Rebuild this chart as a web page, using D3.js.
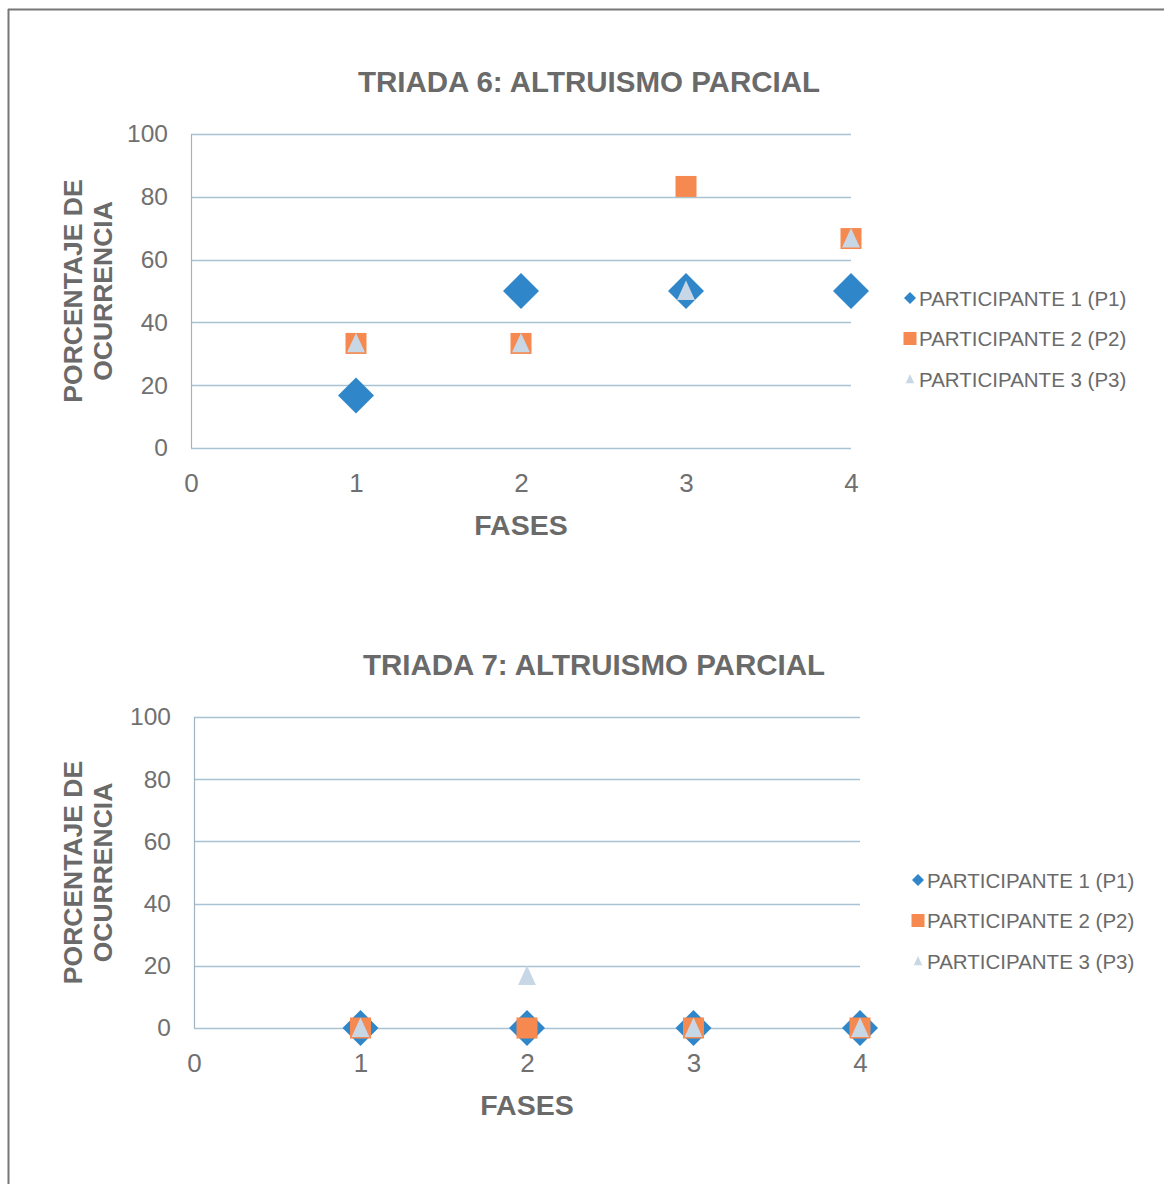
<!DOCTYPE html>
<html><head><meta charset="utf-8">
<script src="https://cdn.jsdelivr.net/npm/d3@7"></script>
<style>
html,body{margin:0;padding:0;background:#fff;}
svg{display:block;font-family:"Liberation Sans",Arial,sans-serif;}
</style></head>
<body>
<svg id="c" width="1164" height="1184"></svg>
<script>
const phases = [1, 2, 3, 4];
const xTicks = [0, 1, 2, 3, 4];
const yTicks = [0, 20, 40, 60, 80, 100];
const seriesNames = ["PARTICIPANTE 1 (P1)", "PARTICIPANTE 2 (P2)", "PARTICIPANTE 3 (P3)"];
const seriesColors = ["#2f86c9", "#f5894f", "#c8d7e6"];
const seriesShapes = ["diamond", "square", "triangle"];

const t6Title = "TRIADA 6: ALTRUISMO PARCIAL";
const t6P1 = [16.7, 50, 50, 50];
const t6P2 = [33.3, 33.3, 83.3, 66.7];
const t6P3 = [33.3, 33.3, 50, 66.7];

const t7Title = "TRIADA 7: ALTRUISMO PARCIAL";
const t7P1 = [0, 0, 0, 0];
const t7P2 = [0, 0, 0, 0];
const t7P3 = [0, 16.7, 0, 0];

const svg = d3.select("#c");
// frame
svg.append("line").attr("x1",8).attr("y1",9.5).attr("x2",1164).attr("y2",9.5).attr("stroke","#777").attr("stroke-width",2);
svg.append("line").attr("x1",8.5).attr("y1",9).attr("x2",8.5).attr("y2",1184).attr("stroke","#777").attr("stroke-width",2);

function shapePath(shape, s) {
  if (shape === "diamond") return `M0,${-s}L${s},0L0,${s}L${-s},0Z`;
  if (shape === "square") return `M${-s},${-s}H${s}V${s}H${-s}Z`;
  return `M0,${-s}L${s*0.85},${s*0.85}L${-s*0.85},${s*0.85}Z`;
}

function drawChart(cfg) {
  const g = svg.append("g");
  const x = d3.scaleLinear().domain([0, 4]).range([cfg.x0, cfg.x1]);
  const y = d3.scaleLinear().domain([0, 100]).range([cfg.y0, cfg.y1]);

  // gridlines
  g.append("g").selectAll("line").data(yTicks).join("line")
    .attr("x1", x(0)).attr("x2", x(4))
    .attr("y1", d => Math.round(y(d)) + 0.5).attr("y2", d => Math.round(y(d)) + 0.5)
    .attr("stroke", "#a8c3d4").attr("stroke-width", 1.5);
  // y axis line
  g.append("line").attr("x1", x(0) + 0.5).attr("x2", x(0) + 0.5)
    .attr("y1", y(100)).attr("y2", y(0)).attr("stroke", "#9fb3c0").attr("stroke-width", 1.2);

  // y tick labels
  const yAxis = d3.axisLeft(y).tickValues(yTicks).tickFormat(d3.format("d")).tickSize(0).tickPadding(23);
  const ya = g.append("g").attr("transform", `translate(${x(0)},0)`).call(yAxis);
  ya.select(".domain").remove();
  ya.selectAll("text").attr("font-size", 24.5).attr("fill", "#707070").attr("font-family", "Liberation Sans, Arial, sans-serif");

  // x tick labels
  const xAxis = d3.axisBottom(x).tickValues(xTicks).tickFormat(d3.format("d")).tickSize(0).tickPadding(26);
  const xa = g.append("g").attr("transform", `translate(0,${y(0)})`).call(xAxis);
  xa.select(".domain").remove();
  xa.selectAll("text").attr("font-size", 26).attr("fill", "#707070").attr("font-family", "Liberation Sans, Arial, sans-serif");

  // title
  g.append("text").attr("x", cfg.titleX).attr("y", cfg.titleY).attr("text-anchor", "middle")
    .attr("font-size", 29.5).attr("font-weight", "bold").attr("fill", "#6a6a6a").text(cfg.title);
  // x title
  g.append("text").attr("x", x(2)).attr("y", y(0) + 87).attr("text-anchor", "middle")
    .attr("font-size", 28.5).attr("font-weight", "bold").attr("fill", "#6a6a6a").text("FASES");
  // y title
  const yc = (y(0) + y(100)) / 2;
  const yt = g.append("text").attr("transform", `translate(${cfg.yTitleX},${yc}) rotate(-90)`)
    .attr("text-anchor", "middle").attr("font-size", 26.5).attr("font-weight", "bold").attr("fill", "#6a6a6a");
  yt.append("tspan").attr("x", 0).attr("dy", 0).text("PORCENTAJE DE");
  yt.append("tspan").attr("x", 0).attr("dy", 30).text("OCURRENCIA");

  // points
  const sizes = [18, 10.5, 10.5];
  cfg.series.forEach((vals, i) => {
    g.append("g").selectAll("path").data(vals.map((v, j) => ({ v, p: phases[j] }))).join("path")
      .attr("transform", d => `translate(${x(d.p)},${y(d.v)})`)
      .attr("d", shapePath(seriesShapes[i], sizes[i]))
      .attr("fill", seriesColors[i]);
  });

  // legend
  const lg = g.append("g").attr("transform", `translate(${cfg.legX},${cfg.legY})`);
  const lsz = [6, 6.5, 5];
  seriesNames.forEach((n, i) => {
    const row = lg.append("g").attr("transform", `translate(0,${i * 40.5})`);
    row.append("path").attr("d", shapePath(seriesShapes[i], lsz[i])).attr("fill", seriesColors[i]);
    row.append("text").attr("x", 9).attr("y", 7.5).attr("font-size", 20.5).attr("fill", "#6a6a6a").text(n);
  });
}

drawChart({ x0: 191, x1: 851, y0: 448, y1: 134, title: t6Title, titleX: 589, titleY: 92,
  yTitleX: 82, legX: 910, legY: 298, series: [t6P1, t6P2, t6P3] });
drawChart({ x0: 194, x1: 860, y0: 1028, y1: 717, title: t7Title, titleX: 594, titleY: 675,
  yTitleX: 82, legX: 918, legY: 880, series: [t7P1, t7P2, t7P3] });
</script>
</body></html>
